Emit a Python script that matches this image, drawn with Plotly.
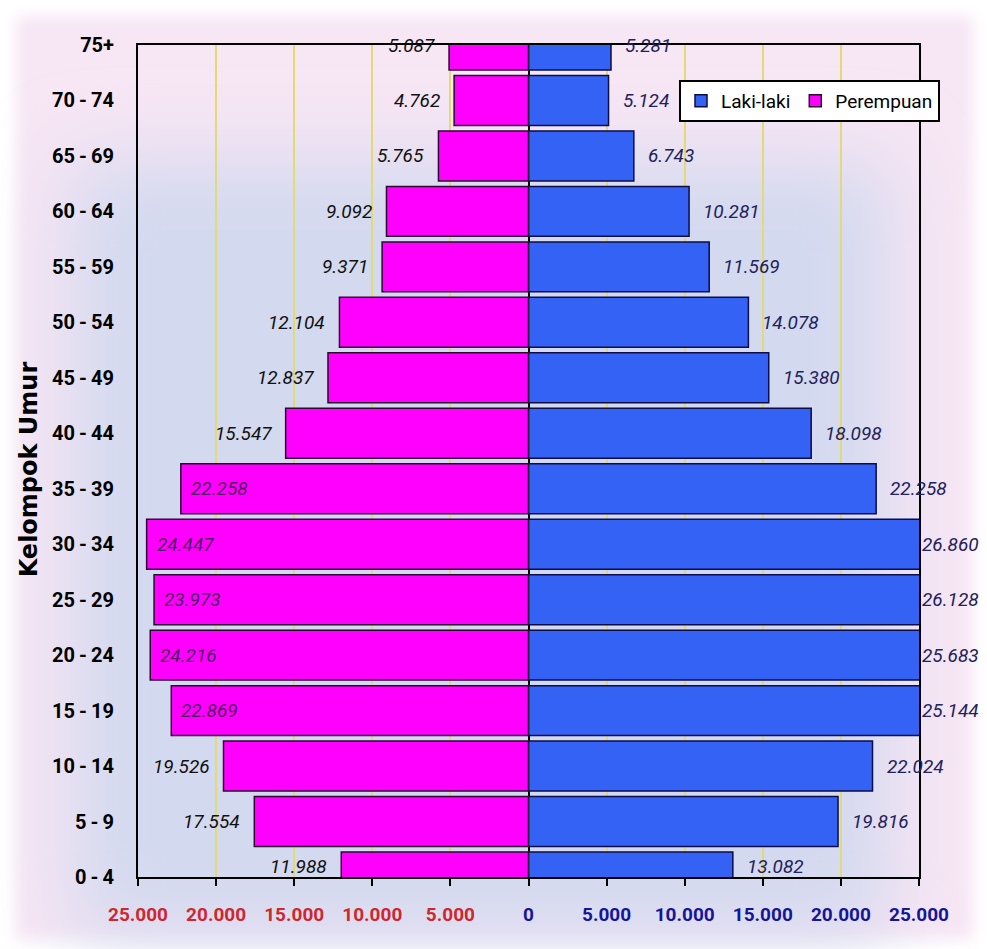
import base64
import plotly.graph_objects as go

# Age groups, bottom to top
age_groups = ["0 - 4", "5 - 9", "10 - 14", "15 - 19", "20 - 24", "25 - 29", "30 - 34",
              "35 - 39", "40 - 44", "45 - 49", "50 - 54", "55 - 59", "60 - 64",
              "65 - 69", "70 - 74", "75+"]

laki_laki = [13082, 19816, 22024, 25144, 25683, 26128, 26860, 22258,
             18098, 15380, 14078, 11569, 10281, 6743, 5124, 5281]

perempuan = [11988, 17554, 19526, 22869, 24216, 23973, 24447, 22258,
             15547, 12837, 12104, 9371, 9092, 5765, 4762, 5087]

x_ticks = [-25000, -20000, -15000, -10000, -5000, 0, 5000, 10000, 15000, 20000, 25000]
x_tick_text = ["25.000", "20.000", "15.000", "10.000", "5.000", "0",
               "5.000", "10.000", "15.000", "20.000", "25.000"]

y_title = "Kelompok Umur"

XMAX = 25000
W, H = 987, 949
M_L, M_R, M_T, M_B = 138, 68, 45, 72

LABEL_FONT = "Roboto, Arial, sans-serif"
AXIS_FONT = "Roboto, Arial, sans-serif"


def fmt(v):
    return f"{v:,}".replace(",", ".")


pos = list(range(len(age_groups)))
pw = W - M_L - M_R
ph = H - M_T - M_B

fig = go.Figure()
fig.add_trace(go.Bar(
    y=pos, x=laki_laki, orientation="h", name="Laki-laki",
    marker=dict(color="#3462F4", line=dict(color="#0C0C48", width=1.5)),
    width=0.9, hoverinfo="skip",
))
fig.add_trace(go.Bar(
    y=pos, x=[-v for v in perempuan], orientation="h", name="Perempuan",
    marker=dict(color="#FF00FF", line=dict(color="#2A0A30", width=1.5)),
    width=0.9, hoverinfo="skip",
))

# Value labels
annotations = []
for i, (m, f) in enumerate(zip(laki_laki, perempuan)):
    ys = 11 if i == 0 else 0
    # male side: outside the bar end, or at the frame when the bar is clipped
    clipped = m >= XMAX
    annotations.append(dict(
        x=min(m, XMAX), y=i, xref="x", yref="y", text=f"<i>{fmt(m)}</i>",
        showarrow=False, xanchor="left", xshift=1 if clipped else 12, yshift=ys,
        font=dict(family=LABEL_FONT, size=19, color="#22225C"),
    ))
    # female side: inside the bar when there is no room outside
    inside = f > 21000
    annotations.append(dict(
        x=-f, y=i, xref="x", yref="y", text=f"<i>{fmt(f)}</i>",
        showarrow=False, xanchor="left" if inside else "right",
        xshift=8 if inside else -12, yshift=ys,
        font=dict(family=LABEL_FONT, size=19, color="#4E1A5E" if inside else "#111111"),
    ))

# Vertical axis title
annotations.append(dict(
    x=(29 - M_L) / pw, y=0.49, xref="paper", yref="paper",
    text=f"<b>{y_title}</b>", textangle=-90, showarrow=False,
    xanchor="center", yanchor="middle",
    font=dict(family="DejaVu Sans", size=24, color="#000000"),
))

# Soft pink/lavender backdrop behind the whole chart
svg = f"""<svg xmlns='http://www.w3.org/2000/svg' width='{W}' height='{H}' viewBox='0 0 {W} {H}'>
<defs>
<filter id='e' x='-10%' y='-10%' width='120%' height='120%'><feGaussianBlur stdDeviation='7'/></filter>
<filter id='g' x='-30%' y='-30%' width='160%' height='160%'><feGaussianBlur stdDeviation='40'/></filter>
</defs>
<rect width='{W}' height='{H}' fill='#ffffff'/>
<rect x='16' y='16' width='{W-30}' height='{H-26}' fill='#F7E6F4' filter='url(#e)'/>
<rect x='70' y='160' width='820' height='780' fill='#D3D9EF' filter='url(#g)'/>
</svg>"""
src = "data:image/svg+xml;base64," + base64.b64encode(svg.encode()).decode()

colored_ticks = []
for v, t in zip(x_ticks, x_tick_text):
    c = "#D0262E" if v < 0 else "#15159A"
    colored_ticks.append(f"<span style='color:{c}'><b>{t}</b></span>")

# age-group labels set tight, with thin spaces around the dash
age_tick_text = ["<b>" + a.replace(" - ", "\u2009-\u2009") + "</b>" for a in age_groups]

fig.update_layout(
    width=W, height=H,
    margin=dict(l=M_L, r=M_R, t=M_T, b=M_B, autoexpand=False),
    barmode="relative",
    bargap=0.1,
    paper_bgcolor="rgba(0,0,0,0)",
    plot_bgcolor="#FFFFFF",
    showlegend=True,
    legend=dict(
        orientation="h", x=(679 - M_L) / pw, y=1 - (80 - M_T) / ph,
        xanchor="left", yanchor="top",
        bgcolor="#FFFFFF", bordercolor="#000000", borderwidth=2,
        font=dict(family=LABEL_FONT, size=19, color="#000000"),
        itemwidth=30, traceorder="normal",
    ),
    annotations=annotations,
    images=[dict(
        source=src, xref="paper", yref="paper",
        x=-M_L / pw, y=1 + M_T / ph, sizex=W / pw, sizey=H / ph,
        xanchor="left", yanchor="top", sizing="stretch", layer="below",
    )],
    xaxis=dict(
        range=[-XMAX, XMAX], tickvals=x_ticks, ticktext=colored_ticks,
        tickfont=dict(family=AXIS_FONT, size=19),
        ticks="outside", ticklen=7, tickwidth=2, tickcolor="#000000",
        ticklabelstandoff=12,
        showgrid=True, gridcolor="#E2DA72", gridwidth=1.5,
        zeroline=True, zerolinecolor="#000000", zerolinewidth=2,
        showline=True, linecolor="#000000", linewidth=2, mirror=True,
    ),
    yaxis=dict(
        range=[0, len(age_groups) - 1],
        tickvals=pos, ticktext=age_tick_text,
        tickfont=dict(family=AXIS_FONT, size=20, color="#000000"),
        ticks="", ticklabelstandoff=18,
        showgrid=False, zeroline=False,
        showline=True, linecolor="#000000", linewidth=2, mirror=True,
    ),
)

fig.write_html("out.html")
